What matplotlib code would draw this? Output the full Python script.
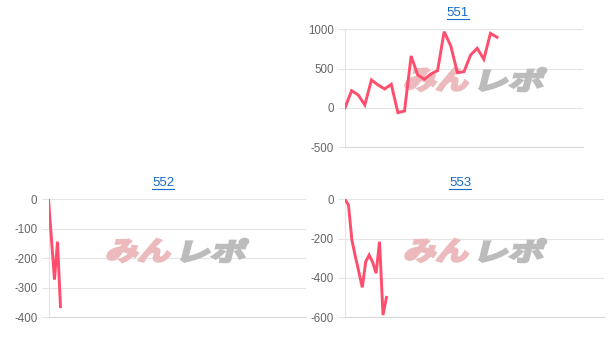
import matplotlib
matplotlib.use("Agg")
import matplotlib.pyplot as plt
from matplotlib.textpath import TextPath
from matplotlib.patches import PathPatch
from matplotlib.font_manager import FontProperties
from matplotlib.transforms import Affine2D, IdentityTransform
from matplotlib.lines import Line2D

plt.rcParams['font.family'] = ['Liberation Sans', 'DejaVu Sans']
plt.rcParams['axes.unicode_minus'] = False

W, H = 609, 350
DPI = 100

# ---- data ----
titles = ["551", "552", "553"]
s551 = [0, 218, 163, 36, 354, 290, 240, 299, -62, -41, 660, 418, 363, 431, 473,
        970, 788, 447, 460, 673, 758, 618, 949, 898]
s552 = [0, -137, -273, -144, -365]
s553 = [0, -29, -208, -292, -369, -449, -318, -284, -320, -377, -216, -590, -500]
ticks551 = [-500, 0, 500, 1000]
ticks552 = [-400, -300, -200, -100, 0]
ticks553 = [-600, -400, -200, 0]
series = [s551, s552, s553]
yticks = [ticks551, ticks552, ticks553]
xspan = [36, 86, 75]

# layout in pixels (left, right, top, bottom)
boxes = [(345, 583, 29.3, 147), (48.5, 306, 199.3, 317), (345, 604, 199.3, 317)]
title_pos = [(458, 13), (163, 183), (460, 183)]
wm_pos = [(403, 67), (105, 238), (403, 238)]

LINE = '#ff4d6d'
GRID = '#e4e4e4'
TICK = '#666666'

fig = plt.figure(figsize=(W / DPI, H / DPI), dpi=DPI)
fp = FontProperties(family='Noto Sans CJK JP', weight='bold')


def watermark(ax, x0, ytop):
    parts = [("みん", '#ecbabd', x0 + 1, x0 + 68), ("レポ", '#bcbcbc', x0 + 76, x0 + 143)]
    for txt, col, a, b in parts:
        tp = TextPath((0, 0), txt, size=100, prop=fp)
        ext = tp.get_extents()
        hgt = 23
        sx = (b - a - 5) / ext.width
        sy = hgt / ext.height
        tr = (Affine2D().translate(-ext.x0, -ext.y0).scale(sx, sy)
              .skew_deg(14, 0).translate(a, H - ytop - hgt - 1))
        patch = PathPatch(tr.transform_path(tp), facecolor=col, edgecolor=col,
                          lw=1.8, joinstyle='miter',
                          transform=IdentityTransform(), zorder=1, clip_on=False)
        ax.add_artist(patch)


for i in range(3):
    l, r, t, b = boxes[i]
    ax = fig.add_axes([l / W, (H - b) / H, (r - l) / W, (b - t) / H])
    ys = series[i]
    xs = list(range(len(ys)))
    ax.plot(xs, ys, color=LINE, lw=2.1, zorder=3, solid_joinstyle='miter')
    ax.set_xlim(0, xspan[i])
    ax.set_ylim(min(yticks[i]), max(yticks[i]))
    ax.set_yticks(yticks[i])
    ax.set_yticklabels([str(v) for v in yticks[i]])
    ax.set_xticks([])
    ax.grid(axis='y', color=GRID, lw=0.8, zorder=0)
    for s in ['top', 'right']:
        ax.spines[s].set_visible(False)
    ax.spines['left'].set_color(GRID)
    ax.spines['bottom'].set_color('#d8d8d8')
    ax.spines['left'].set_linewidth(0.8)
    ax.spines['bottom'].set_linewidth(0.8)
    ax.tick_params(axis='y', length=5, width=0.8, color=GRID, labelcolor=TICK,
                   labelsize=8.3, pad=3)
    ax.set_axisbelow(True)
    watermark(ax, *wm_pos[i])

    tx, ty = title_pos[i]
    fig.text(tx / W, 1 - ty / H, titles[i], ha='center', va='center',
             color='#1569c7', fontsize=9.5)

fig.canvas.draw()
renderer = fig.canvas.get_renderer()
for t in fig.texts:
    bb = t.get_window_extent(renderer)
    y = bb.y0 + 0.5
    fig.add_artist(Line2D([bb.x0 / W, bb.x1 / W], [y / H, y / H],
                          color='#1569c7', lw=0.8, transform=fig.transFigure))

fig.savefig('out.png', dpi=DPI)
